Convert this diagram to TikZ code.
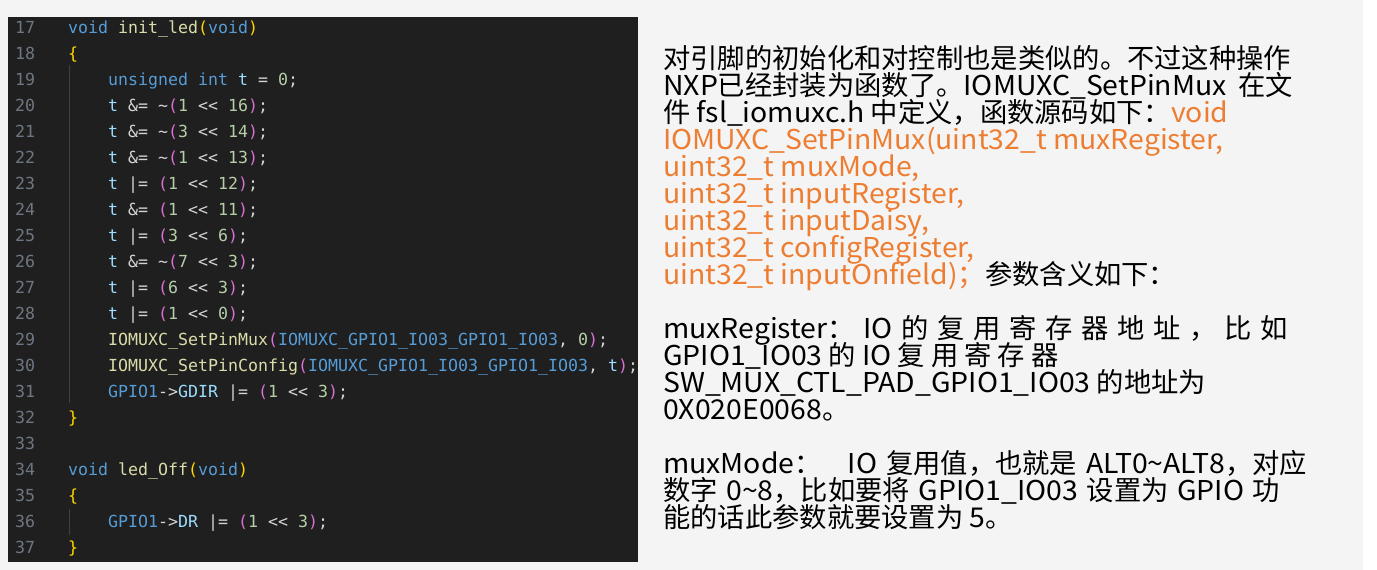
\documentclass[tikz,border=0pt]{standalone}
\usepackage{fontspec}
\setmainfont{Noto Sans CJK SC}
\newfontfamily\codefont[Ligatures=TeXOff]{DejaVu Sans Mono}
\newfontfamily\txtfont{Noto Sans CJK SC}
\newfontfamily\latfont[FakeStretch=1.04]{Noto Sans CJK SC}
\definecolor{pagebg}{HTML}{F4F4F4}
\definecolor{panelbg}{HTML}{1F1F1F}
\definecolor{lnumc}{HTML}{6E7681}
\definecolor{ckw}{HTML}{569CD6}
\definecolor{cfn}{HTML}{DCDCAA}
\definecolor{cvar}{HTML}{9CDCFE}
\definecolor{cnum}{HTML}{B5CEA8}
\definecolor{cop}{HTML}{D4D4D4}
\definecolor{cbra}{HTML}{FFD700}
\definecolor{cbrb}{HTML}{DA70D6}
\definecolor{guidec}{HTML}{404040}
\definecolor{orng}{HTML}{ED7D31}
\newcommand\Kw[1]{\textcolor{ckw}{#1}}
\newcommand\Fn[1]{\textcolor{cfn}{#1}}
\newcommand\Va[1]{\textcolor{cvar}{#1}}
\newcommand\Nu[1]{\textcolor{cnum}{#1}}
\newcommand\Ba[1]{\textcolor{cbra}{#1}}
\newcommand\Bb[1]{\textcolor{cbrb}{#1}}
\newcommand\Or[1]{\textcolor{orng}{#1}}
\newcommand\La[1]{{\latfont #1}}
\newcommand\tl{\textasciitilde}
\tikzset{
  codeline/.style={anchor=base west, inner sep=0pt, text=cop,
    font=\codefont\fontsize{16.61}{20}\selectfont},
  numline/.style={anchor=base west, inner sep=0pt, text=lnumc,
    font=\codefont\fontsize{16.61}{20}\selectfont},
  txtline/.style={anchor=base west, inner sep=0pt, text=black,
    font=\txtfont\fontsize{27.3}{27}\selectfont},
  guide/.style={draw=guidec, line width=1pt}
}
\begin{document}
\begin{tikzpicture}[x=1pt, y=-1pt]
\useasboundingbox (0,0) rectangle (1377,570);
\fill[white] (0,0) rectangle (1377,570);
\fill[pagebg] (0,0) rectangle (1363,570);
\fill[panelbg] (8,17) rectangle (638,562);
% indent guides
\coordinate (g1a) at (69,65); \coordinate (g1b) at (69,403);
\coordinate (g2a) at (69,509); \coordinate (g2b) at (69,535);
\draw[guide] (g1a) -- (g1b);
\draw[guide] (g2a) -- (g2b);
% line numbers
\foreach \n [count=\i from 0] in {17,...,37}
  \node[numline] (n\n) at (15,33+26*\i) {\n};
% code
\node[codeline] (c17) at (68,33)  {\Kw{void} \Fn{init\_led}\Ba{(}\Kw{void}\Ba{)}};
\node[codeline] (c18) at (68,59)  {\Ba{\{}};
\node[codeline] (c19) at (108,85) {\Kw{unsigned} \Kw{int} \Va{t} = \Nu{0};};
\node[codeline] (c20) at (108,111) {\Va{t} \&= \tl\Bb{(}\Nu{1} << \Nu{16}\Bb{)};};
\node[codeline] (c21) at (108,137) {\Va{t} \&= \tl\Bb{(}\Nu{3} << \Nu{14}\Bb{)};};
\node[codeline] (c22) at (108,163) {\Va{t} \&= \tl\Bb{(}\Nu{1} << \Nu{13}\Bb{)};};
\node[codeline] (c23) at (108,189) {\Va{t} |= \Bb{(}\Nu{1} << \Nu{12}\Bb{)};};
\node[codeline] (c24) at (108,215) {\Va{t} \&= \Bb{(}\Nu{1} << \Nu{11}\Bb{)};};
\node[codeline] (c25) at (108,241) {\Va{t} |= \Bb{(}\Nu{3} << \Nu{6}\Bb{)};};
\node[codeline] (c26) at (108,267) {\Va{t} \&= \tl\Bb{(}\Nu{7} << \Nu{3}\Bb{)};};
\node[codeline] (c27) at (108,293) {\Va{t} |= \Bb{(}\Nu{6} << \Nu{3}\Bb{)};};
\node[codeline] (c28) at (108,319) {\Va{t} |= \Bb{(}\Nu{1} << \Nu{0}\Bb{)};};
\node[codeline] (c29) at (108,345) {\Fn{IOMUXC\_SetPinMux}\Bb{(}\Kw{IOMUXC\_GPIO1\_IO03\_GPIO1\_IO03}, \Nu{0}\Bb{)};};
\node[codeline] (c30) at (108,371) {\Fn{IOMUXC\_SetPinConfig}\Bb{(}\Kw{IOMUXC\_GPIO1\_IO03\_GPIO1\_IO03}, \Va{t}\Bb{)};};
\node[codeline] (c31) at (108,397) {\Kw{GPIO1}->\Va{GDIR} |= \Bb{(}\Nu{1} << \Nu{3}\Bb{)};};
\node[codeline] (c32) at (68,423) {\Ba{\}}};
\node[codeline] (c34) at (68,475) {\Kw{void} \Fn{led\_Off}\Ba{(}\Kw{void}\Ba{)}};
\node[codeline] (c35) at (68,501) {\Ba{\{}};
\node[codeline] (c36) at (108,527) {\Kw{GPIO1}->\Va{DR} |= \Bb{(}\Nu{1} << \Nu{3}\Bb{)};};
\node[codeline] (c37) at (68,553) {\Ba{\}}};
% right text
\node[txtline] (t1) at (663,68) {对引脚的初始化和对控制也是类似的。不过这种操作};
\node[txtline] (t2) at (663,95) {\makebox[630pt][s]{\La{NXP}已经封装为函数了。\La{IOMUXC\_SetPinMux} 在文}};
\node[txtline] (t3) at (663,122) {件 \La{fsl\_iomuxc.h} 中定义，函数源码如下：\Or{\La{void}}};
\node[txtline] (t4) at (663,149) {\Or{\La{IOMUXC\_SetPinMux(uint32\_t muxRegister,}}};
\node[txtline] (t5) at (663,176) {\Or{\La{uint32\_t muxMode,}}};
\node[txtline] (t6) at (663,203) {\Or{\La{uint32\_t inputRegister,}}};
\node[txtline] (t7) at (663,230) {\Or{\La{uint32\_t inputDaisy,}}};
\node[txtline] (t8) at (663,257) {\Or{\La{uint32\_t configRegister,}}};
\node[txtline] (t9) at (663,284) {\Or{\La{uint32\_t inputOnfield)}；}参数含义如下：};
\node[txtline] (t10) at (663,338) {\makebox[625pt][s]{\La{muxRegister}： \La{IO} 的 复 用 寄 存 器 地 址 ， 比 如}};
\node[txtline] (t11) at (663,365) {\La{GPIO1\_IO03} 的 \La{IO} 复 用 寄 存 器};
\node[txtline] (t12) at (663,392) {\La{SW\_MUX\_CTL\_PAD\_GPIO1\_IO03} 的地址为};
\node[txtline] (t13) at (663,419) {\La{0X020E0068}。};
\node[txtline] (t14) at (663,473) {\makebox[644pt][s]{\La{muxMode}：\hspace{26pt}\La{IO} 复用值，也就是 \La{ALT0\tl ALT8}，对应}};
\node[txtline] (t15) at (663,500) {\makebox[617pt][s]{数字 \La{0\tl 8}，比如要将 \La{GPIO1\_IO03} 设置为 \La{GPIO} 功}};
\node[txtline] (t16) at (663,527) {能的话此参数就要设置为 \La{5}。};
\end{tikzpicture}
\end{document}
